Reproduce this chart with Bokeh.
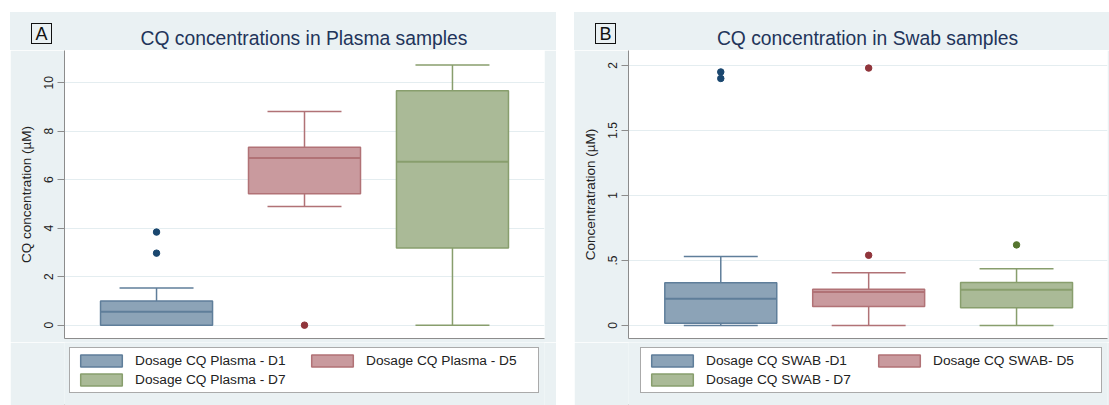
from bokeh.plotting import figure
from bokeh.layouts import row, column, Spacer
from bokeh.models import Range1d, FixedTicker, Legend, LegendItem, ColumnDataSource, Div
from bokeh.embed import file_html
from bokeh.resources import INLINE

# ---- data -------------------------------------------------------------
xpos = [1, 2, 3]

plasma_labels = ["Dosage CQ Plasma - D1", "Dosage CQ Plasma - D5", "Dosage CQ Plasma - D7"]
plasma_q1 = [0.0, 5.42, 3.18]
plasma_median = [0.55, 6.90, 6.74]
plasma_q3 = [1.00, 7.34, 9.67]
plasma_whisker_lo = [0.0, 4.90, 0.0]
plasma_whisker_hi = [1.53, 8.81, 10.73]
plasma_outliers = [[3.84, 2.97], [0.0], []]
plasma_ticks = [0, 2, 4, 6, 8, 10]
plasma_tick_labels = ["0", "2", "4", "6", "8", "10"]

swab_labels = ["Dosage CQ SWAB -D1", "Dosage CQ SWAB- D5", "Dosage CQ SWAB - D7"]
swab_q1 = [0.018, 0.146, 0.136]
swab_median = [0.205, 0.258, 0.275]
swab_q3 = [0.328, 0.278, 0.331]
swab_whisker_lo = [0.0, 0.0, 0.0]
swab_whisker_hi = [0.53, 0.405, 0.436]
swab_outliers = [[1.95, 1.90], [1.98, 0.54], [0.62]]
swab_ticks = [0, 0.5, 1, 1.5, 2]
swab_tick_labels = ["0", ".5", "1", "1.5", "2"]

# ---- styling ------------------------------------------------------------
FONT = "Liberation Sans"
PANEL_BG = "#EAF1F3"
GRID = "#E4EDF0"
FILLS = ["#8CA3B7", "#C99A9E", "#AABA97"]
EDGES = ["#5F7E9A", "#B17276", "#889E6D"]
DOTS = ["#1A476F", "#90353B", "#55752F"]
TITLE_COLOR = "#22345A"

BORDER_L = 54
TOP_H = 38
PLOT_H = 292
LEGEND_H = 63


def heading(width, frame_w, tag, title):
    """Band above the plot: boxed panel letter and centred title."""
    html = (
        f'<div style="position:relative;width:{width}px;height:{TOP_H}px;'
        f'background:{PANEL_BG};font-family:\'{FONT}\';overflow:hidden;">'
        f'<div style="position:absolute;left:21.4px;top:10.8px;width:20.4px;height:21.6px;'
        f'box-sizing:border-box;border:1.5px solid #111111;display:flex;'
        f'align-items:center;justify-content:center;font-size:18px;line-height:1;'
        f'color:#111111;">{tag}</div>'
        f'<div style="position:absolute;left:{BORDER_L}px;width:{frame_w}px;top:16.7px;'
        f'text-align:center;font-size:19.3px;line-height:19.3px;white-space:nowrap;'
        f'color:{TITLE_COLOR};">{title}</div>'
        f'</div>'
    )
    return Div(text=html, width=width, height=TOP_H, margin=0)


def panel(title, tag, ylabel, labels, q1, med, q3, wlo, whi, outliers,
          ticks, tick_labels, y_range, x_range, width, border_right,
          label_width, legend_dx):
    frame_w = width - BORDER_L - border_right
    head = heading(width, frame_w, tag, title)

    # --- box plot
    p = figure(width=width, height=PLOT_H, output_backend="svg", toolbar_location=None,
               title=None, x_range=Range1d(*x_range), y_range=Range1d(*y_range),
               min_border_left=BORDER_L, min_border_right=border_right,
               min_border_top=0, min_border_bottom=4)
    p.background_fill_color = "white"
    p.border_fill_color = PANEL_BG
    p.outline_line_color = None

    src = ColumnDataSource(dict(x=xpos, q1=q1, med=med, q3=q3, lo=wlo, hi=whi,
                                fill=FILLS, edge=EDGES))
    box_w = 0.757
    cap_w = 0.5
    # whisker stems and caps
    p.segment(x0="x", y0="q3", x1="x", y1="hi", source=src, line_color="edge", line_width=1.5)
    p.segment(x0="x", y0="q1", x1="x", y1="lo", source=src, line_color="edge", line_width=1.5)
    caps = dict(x0=[x - cap_w / 2 for x in xpos] * 2, x1=[x + cap_w / 2 for x in xpos] * 2,
                y=list(whi) + list(wlo), c=EDGES * 2)
    p.segment(x0="x0", y0="y", x1="x1", y1="y", source=ColumnDataSource(caps),
              line_color="c", line_width=1.5)
    # boxes
    p.vbar(x="x", width=box_w, top="q3", bottom="q1", source=src,
           fill_color="fill", line_color="edge", line_width=1.5)
    # medians
    p.segment(x0=[x - box_w / 2 for x in xpos], x1=[x + box_w / 2 for x in xpos],
              y0=med, y1=med, line_color=EDGES, line_width=2)
    # outside values
    ox, oy, oc = [], [], []
    for i, vals in enumerate(outliers):
        for v in vals:
            ox.append(xpos[i]); oy.append(v); oc.append(DOTS[i])
    p.scatter(ox, oy, size=6.5, fill_color=oc, line_color=oc)

    # axes
    p.yaxis.ticker = FixedTicker(ticks=ticks)
    p.yaxis.major_label_overrides = {t: l for t, l in zip(ticks, tick_labels)}
    p.yaxis.major_label_orientation = "vertical"
    p.yaxis.axis_label = ylabel
    p.yaxis.axis_label_text_font = FONT
    p.yaxis.axis_label_text_font_style = "normal"
    p.yaxis.axis_label_text_font_size = "13.5px"
    p.yaxis.axis_label_text_color = "#222222"
    p.yaxis.axis_label_standoff = 8
    p.yaxis.major_label_text_font = FONT
    p.yaxis.major_label_text_font_size = "12px"
    p.yaxis.major_label_text_color = "#222222"
    p.yaxis.major_label_standoff = 4
    p.yaxis.major_tick_out = 7
    p.yaxis.major_tick_in = 0
    p.yaxis.minor_tick_line_color = None
    p.yaxis.axis_line_color = "#8C8C8C"
    p.yaxis.major_tick_line_color = "#8C8C8C"

    p.xaxis.ticker = FixedTicker(ticks=[])
    p.xaxis.major_tick_line_color = None
    p.xaxis.minor_tick_line_color = None
    p.xaxis.major_tick_out = 0
    p.xaxis.major_label_standoff = 0
    p.xaxis.axis_label_standoff = 0
    p.xaxis.axis_line_color = "#8C8C8C"

    p.xgrid.grid_line_color = None
    p.ygrid.ticker = FixedTicker(ticks=ticks)
    p.ygrid.grid_line_color = GRID
    p.ygrid.grid_line_width = 1

    # --- legend band (frame lines up with the plot frame)
    lf = figure(width=width, height=LEGEND_H, output_backend="svg", toolbar_location=None,
                title=None, x_axis_location=None, y_axis_location=None,
                x_range=Range1d(100, 101), y_range=Range1d(100, 101),
                min_border_left=BORDER_L, min_border_right=border_right,
                min_border_top=0, min_border_bottom=0)
    lf.background_fill_color = PANEL_BG
    lf.border_fill_color = PANEL_BG
    lf.outline_line_color = None
    lf.grid.visible = False
    # key glyphs share the box data; they sit well outside the visible ranges
    key = lf.vbar(x="x", width=box_w, top="q3", bottom="q1", source=src,
                  fill_color="fill", line_color="edge", line_width=1.5)
    items = [LegendItem(label=labels[i], renderers=[key], index=i) for i in range(3)]
    leg = Legend(items=items, orientation="horizontal", ncols=2,
                 location=(legend_dx, 12),
                 margin=0, padding=5, spacing=4, glyph_width=52, glyph_height=15,
                 label_standoff=8, label_width=label_width, label_height=15,
                 label_text_font=FONT, label_text_font_size="13.7px",
                 label_text_color="#222222",
                 border_line_color="#555555", border_line_width=1,
                 background_fill_color="white", background_fill_alpha=1.0)
    lf.add_layout(leg, "center")

    return column(head, p, lf)


pa = panel("CQ concentrations in Plasma samples", "A", "CQ concentration (\u00b5M)",
           plasma_labels, plasma_q1, plasma_median, plasma_q3, plasma_whisker_lo,
           plasma_whisker_hi, plasma_outliers, plasma_ticks, plasma_tick_labels,
           (-0.55, 11.33), (0.378, 3.622), 546, 12, 167, 5)
pb = panel("CQ concentration in Swab samples", "B", "Concentratration (\u00b5M)",
           swab_labels, swab_q1, swab_median, swab_q3, swab_whisker_lo,
           swab_whisker_hi, swab_outliers, swab_ticks, swab_tick_labels,
           (-0.1, 2.115), (0.376, 3.615), 535, 2, 163, 12)

layout = column(Spacer(height=12),
                row(Spacer(width=10), pa, Spacer(width=18), pb))

open("out.html", "w").write(file_html(layout, INLINE))
